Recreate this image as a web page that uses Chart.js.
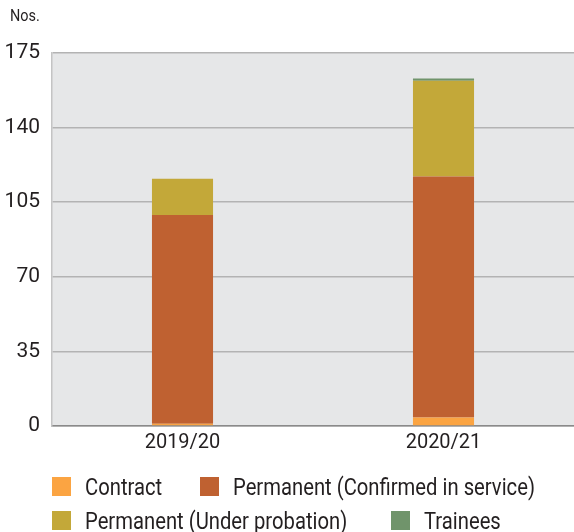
<!DOCTYPE html>
<html>
<head>
<meta charset="utf-8">
<script src="https://cdn.jsdelivr.net/npm/chart.js@4.4.1/dist/chart.umd.min.js"></script>
<style>
  html, body { margin: 0; padding: 0; background: #ffffff; }
  #wrap { position: relative; width: 574px; height: 532px; }
  canvas { display: block; }
</style>
</head>
<body>
<div id="wrap"><canvas id="chart" width="574" height="532"></canvas></div>
<script>
// Staff strength by employment type (numbers of employees)
const years = ['2019/20', '2020/21'];
const contract = [1, 4];
const permanentConfirmed = [98, 113];
const permanentProbation = [17, 45];
const trainees = [0, 1];
const seriesNames = ['Contract', 'Permanent (Confirmed in service)', 'Permanent (Under probation)', 'Trainees'];
const seriesColors = ['#fba442', '#bf6131', '#c3a839', '#70946b'];
const yTicks = [0, 35, 70, 105, 140, 175];
const unitLabel = 'Nos.';

const FONT = 'Roboto, "Noto Sans", sans-serif';
const TEXT = '#231f20';

// Grey panel behind the plot area
const panelBg = {
  id: 'panelBg',
  beforeDraw(chart) {
    const { ctx, chartArea: a } = chart;
    ctx.save();
    ctx.fillStyle = '#e6e7e8';
    ctx.fillRect(a.left, a.top, a.right - a.left, a.bottom - a.top);
    ctx.restore();
  }
};

// Draw text slightly condensed horizontally
function narrowText(ctx, text, x, y, squeeze) {
  ctx.save();
  ctx.translate(x, y);
  ctx.scale(squeeze, 1);
  ctx.fillText(text, 0, 0);
  ctx.restore();
}

// Unit label and two-row legend
const extras = {
  id: 'extras',
  afterDraw(chart) {
    const { ctx } = chart;
    ctx.save();
    ctx.fillStyle = TEXT;
    ctx.textBaseline = 'alphabetic';
    ctx.textAlign = 'left';
    ctx.font = '17px ' + FONT;
    narrowText(ctx, unitLabel, 10, 21, 0.85);

    const slots = [
      { x: 52, y: 477 }, { x: 200, y: 477 },
      { x: 52, y: 511 }, { x: 391, y: 511 }
    ];
    ctx.font = '23px ' + FONT;
    seriesNames.forEach((name, i) => {
      const s = slots[i];
      ctx.fillStyle = seriesColors[i];
      ctx.fillRect(s.x, s.y, 19, 19);
      ctx.fillStyle = TEXT;
      narrowText(ctx, name, s.x + 33, s.y + 18, 0.88);
    });
    ctx.restore();
  }
};

const seriesData = [contract, permanentConfirmed, permanentProbation, trainees];

new Chart(document.getElementById('chart'), {
  type: 'bar',
  data: {
    labels: years,
    datasets: seriesNames.map((name, i) => ({
      label: name,
      data: seriesData[i],
      backgroundColor: seriesColors[i],
      borderWidth: 0,
      categoryPercentage: 1,
      barPercentage: 0.234
    }))
  },
  options: {
    responsive: false,
    animation: false,
    devicePixelRatio: 1,
    layout: { padding: { top: 53, left: 0, right: 0, bottom: 0 } },
    plugins: { legend: { display: false }, tooltip: { enabled: false } },
    scales: {
      x: {
        stacked: true,
        afterFit(scale) { scale.height = 106; },
        grid: { display: false, drawTicks: false },
        border: { display: true, color: '#8a8a8a', width: 1.5 },
        ticks: { color: TEXT, font: { family: FONT, size: 20 }, padding: 5 }
      },
      y: {
        stacked: true,
        min: 0,
        max: 175,
        afterFit(scale) { scale.width = 52; },
        afterBuildTicks(scale) { scale.ticks = yTicks.map(v => ({ value: v })); },
        grid: { color: '#b3b3b3', lineWidth: 1.5, drawTicks: false },
        border: { display: true, color: '#c4c4c4', width: 1.5 },
        ticks: { color: TEXT, font: { family: FONT, size: 21 }, padding: 12 }
      }
    }
  },
  plugins: [panelBg, extras]
});
</script>
</body>
</html>
